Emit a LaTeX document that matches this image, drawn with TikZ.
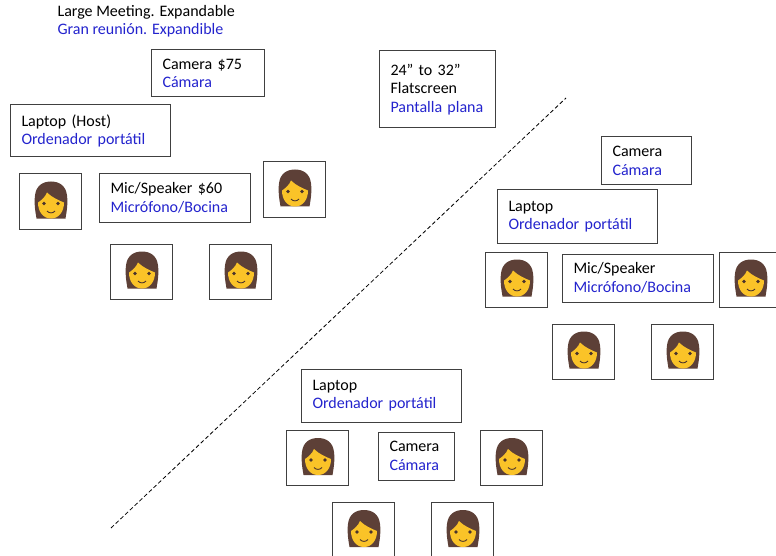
\documentclass[tikz,border=0pt]{standalone}
\usepackage{fontspec}
\setmainfont{Carlito}
\usetikzlibrary{arrows}
\definecolor{spanish}{RGB}{35,35,205}
\definecolor{hair}{RGB}{93,64,55}
\definecolor{skin}{RGB}{250,195,40}
\newcommand{\es}[1]{\textcolor{spanish}{#1}}
\tikzset{
  every node/.style={font=\fontsize{16}{18.5}\selectfont},
  infobox/.style={draw=black!75,line width=1pt,inner ysep=0pt,inner xsep=11.5pt,align=left,anchor=center},
  personbox/.style={draw=black!75,line width=1pt,minimum width=62pt,minimum height=55pt,inner sep=0pt,
    path picture={\pic at (path picture bounding box.center) {girl};}},
  girl/.pic={
    \fill[hair] (-13.5,17) .. controls (-15,8) and (-16,2) .. (-15,-6)
      .. controls (-14,-16) and (-7,-20) .. (1,-20)
      .. controls (9,-20) and (16,-16) .. (17,-6)
      .. controls (18,2) and (17,8) .. (15.5,17) -- cycle;
    \fill[skin] (-12,1) .. controls (-9,-1) and (-5,-4) .. (-3,-9)
      .. controls (2,-4) and (9,-1) .. (14,1)
      .. controls (14,10) and (9,17) .. (1,17)
      .. controls (-7,17) and (-12,10) .. (-12,1) -- cycle;
    \fill[hair!80!black] (-6,2) circle (1.9);
    \fill[hair!80!black] (8,2) circle (1.9);
    \draw[hair!80!black,line width=0.9pt] (-3,9.5) .. controls (-1,12) and (3,12) .. (5,9.5);
  }
}
\begin{document}
\begin{tikzpicture}[x=1pt,y=-1pt]
    \clip (0,0) rectangle (776,556);
    % top left group
    \node[anchor=west,align=left] (title) at (54,21) {Large Meeting. Expandable\\ \es{Gran reunión. Expandible}};
    \node[infobox,text width=90pt,minimum height=47pt] (camera1) at (207.5,73.5) {Camera \$75\\ \es{Cámara}};
    \node[infobox,text width=137pt,minimum height=52pt] (laptop1) at (90,131) {Laptop (Host)\\ \es{Ordenador portátil}};
    \node[infobox,text width=128pt,minimum height=48pt] (mic1) at (174.5,198) {Mic/Speaker \$60\\ \es{Micrófono/Bocina}};
    \node[personbox] (person1) at (50,201.5) {};
    \node[personbox] (person2) at (294,189.5) {};
    \node[personbox] (person3) at (141,271.5) {};
    \node[personbox] (person4) at (240,271.5) {};
    \node[infobox,text width=93pt,minimum height=77pt] (screen) at (437,89.5) {24” to 32”\\ Flatscreen\\ \es{Pantalla plana}};

    % right group
    \node[infobox,text width=67pt,minimum height=48pt] (camera2) at (646,161) {Camera\\ \es{Cámara}};
    \node[infobox,text width=137pt,minimum height=53pt] (laptop2) at (577,216.5) {Laptop\\ \es{Ordenador portátil}};
    \node[infobox,text width=128pt,minimum height=48pt] (mic2) at (637.5,278) {Mic/Speaker\\ \es{Micrófono/Bocina}};
    \node[personbox] (person5) at (516,279.5) {};
    \node[personbox] (person6) at (750,279.5) {};
    \node[personbox] (person7) at (583,351.5) {};
    \node[personbox] (person8) at (682,351.5) {};

    % bottom group
    \node[infobox,text width=137pt,minimum height=53pt] (laptop3) at (381,395.5) {Laptop\\ \es{Ordenador portátil}};
    \node[infobox,text width=53pt,minimum height=48pt] (camera3) at (416,456) {Camera\\ \es{Cámara}};
    \node[personbox] (person9) at (317,458) {};
    \node[personbox] (person10) at (511,458) {};
    \node[personbox] (person11) at (363,530) {};
    \node[personbox] (person12) at (462,530) {};

    % divider
    \coordinate (lineA) at (111,528);
    \coordinate (lineB) at (566,98);
    \draw[dash pattern=on 4pt off 2.5pt,line width=0.8pt] (lineA) -- (lineB);
\end{tikzpicture}
\end{document}
